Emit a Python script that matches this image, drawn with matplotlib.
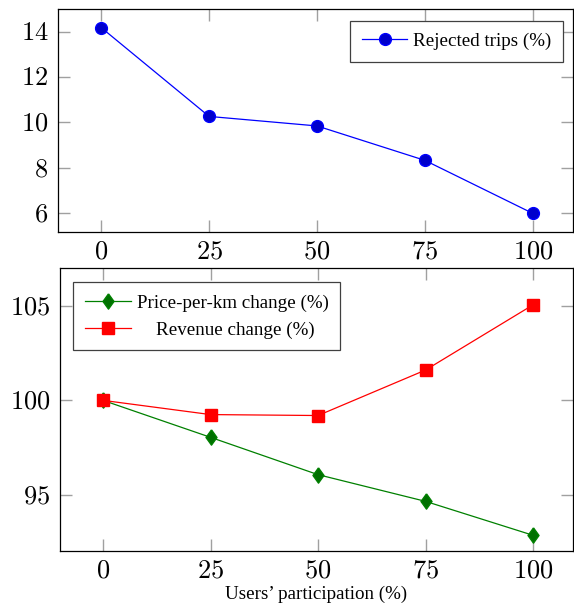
import numpy as np
import matplotlib.pyplot as plt

plt.rcParams['mathtext.fontset'] = 'cm'
plt.rcParams['font.family'] = ['Liberation Serif', 'DejaVu Serif']

participation = [0, 25, 50, 75, 100]
rejected_trips = [14.18, 10.26, 9.84, 8.32, 5.98]
price_change = [100.0, 98.05, 96.08, 94.67, 92.88]
revenue_change = [100.0, 99.25, 99.2, 101.6, 105.04]

top_yticks = [6, 8, 10, 12, 14]
bottom_yticks = [95, 100, 105]

# pgfplots style diamond (taller than wide)
diamond = [(0, 1), (0.72, 0), (0, -1), (-0.72, 0), (0, 1)]


def style_axes(ax, yticks):
    ax.set_xlim(-10, 109.3)
    ax.set_xticks(participation)
    ax.set_xticklabels([f'${v}$' for v in participation])
    ax.set_yticks(yticks)
    ax.set_yticklabels([f'${v}$' for v in yticks])
    ax.tick_params(axis='both', which='both', direction='in', length=8.5,
                   width=1.0, color='#a0a0a0', labelsize=19,
                   top=True, right=True, pad=7)
    for s in ax.spines.values():
        s.set_linewidth(0.9)


fig = plt.figure(figsize=(5.74, 6.06), dpi=100)

ax1 = fig.add_axes([58 / 574, 1 - 232 / 606, 515 / 574, 223 / 606])
ax1.plot(participation, rejected_trips, color='blue', linewidth=0.9,
         marker='o', markersize=8.5, markerfacecolor='#0000cc',
         markeredgecolor='blue', label='Rejected trips (%)')
ax1.set_ylim(5.16, 15.0)
style_axes(ax1, top_yticks)
leg1 = ax1.legend(loc='upper right', fontsize=13.7, fancybox=False,
                  edgecolor='#404040', framealpha=1, borderpad=0.62,
                  handlelength=2.4, handletextpad=0.3, borderaxespad=0,
                  bbox_to_anchor=(0.981, 0.948))
leg1.get_frame().set_linewidth(0.9)

ax2 = fig.add_axes([60 / 574, 1 - 551 / 606, 513 / 574, 282.7 / 606])
ax2.plot(participation, price_change, color='#008000', linewidth=0.9,
         marker=diamond, markersize=11, markerfacecolor='#007000',
         markeredgecolor='#008000', label='Price-per-km change (%)')
ax2.plot(participation, revenue_change, color='red', linewidth=0.9,
         marker='s', markersize=8.5, markerfacecolor='red',
         markeredgecolor='red', label='    Revenue change (%)')
ax2.set_ylim(92.05, 106.97)
style_axes(ax2, bottom_yticks)
ax2.set_xlabel("Users\u2019 participation (%)", fontsize=13.7, labelpad=2)
leg2 = ax2.legend(loc='upper left', fontsize=13.7, fancybox=False,
                  edgecolor='#404040', framealpha=1, borderpad=0.62,
                  handlelength=2.4, handletextpad=0.3, labelspacing=0.5,
                  borderaxespad=0, bbox_to_anchor=(0.026, 0.95))
leg2.get_frame().set_linewidth(0.9)

fig.savefig('out.png', dpi=100)
